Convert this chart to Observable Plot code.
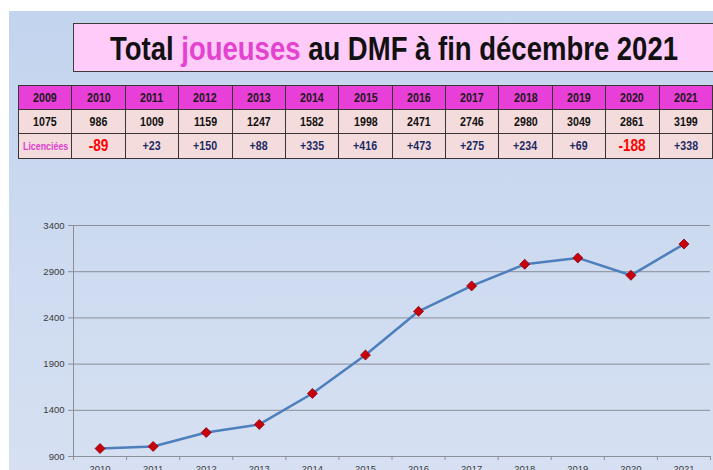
<!DOCTYPE html>
<html>
<head>
<meta charset="utf-8">
<script src="https://cdn.jsdelivr.net/npm/d3@7"></script>
<script src="https://cdn.jsdelivr.net/npm/@observablehq/plot@0.6"></script>
<style>
  body { margin: 0; background: #fff; }
  #root { position: relative; width: 713px; height: 470px; overflow: hidden; background: #fff; }
  #bg { position: absolute; left: 9px; top: 11px; right: 0; bottom: 0;
        background: linear-gradient(#c3d4ee, #d6e0f2); }
  #title { position: absolute; left: 73px; top: 23px; width: 660px; height: 47px;
           border: 1px solid #3c3c3c; background: #ffccf9; box-sizing: content-box; }
  #title span.t { position: absolute; left: 320px; top: 0; line-height: 49px;
           font-family: "Liberation Sans", Arial, sans-serif;
           font-weight: bold; font-size: 34px; color: #111; white-space: nowrap; }
  #title .pink { color: #e443d0; }
  table { position: absolute; left: 18px; top: 85px; width: 695px; border-collapse: collapse; table-layout: fixed;
          font-family: "Liberation Sans", Arial, sans-serif; font-weight: bold; }
  td { border: 1.5px solid #3a3434; text-align: center; padding: 0; font-size: 12.5px; overflow: visible; }
  td span { display: inline-block; transform: scaleX(0.85); white-space: nowrap; }
  tr.h td { background: #e73fd7; color: #1a1a1a; height: 23px; }
  tr.v td { background: #f4dcdc; color: #111; height: 23px; }
  tr.d td { background: #f4dcdc; color: #1c2a63; height: 24px; }
  td.neg { color: #ff0000 !important; font-size: 16px; }
  td.lic { color: #e040d0 !important; font-size: 10.8px; }
  td.lic span { transform: scaleX(0.82); margin: 0 -6px; }
  #chart { position: absolute; left: 0; top: 200px; }
</style>
</head>
<body>
<div id="root">
  <div id="bg"></div>
  <div id="title"><span class="t" id="ttl">Total <span class="pink">joueuses</span> au DMF à fin décembre 2021</span></div>
  <table id="tbl"></table>
  <div id="chart"></div>
</div>
<script>
const tableYears = [2009, 2010, 2011, 2012, 2013, 2014, 2015, 2016, 2017, 2018, 2019, 2020, 2021];
const tableTotals = [1075, 986, 1009, 1159, 1247, 1582, 1998, 2471, 2746, 2980, 3049, 2861, 3199];
const tableDiffs = ["Licenciées", -89, 23, 150, 88, 335, 416, 473, 275, 234, 69, -188, 338];

const chartYears = [2010, 2011, 2012, 2013, 2014, 2015, 2016, 2017, 2018, 2019, 2020, 2021];
const chartValues = [986, 1009, 1159, 1247, 1582, 1998, 2471, 2746, 2980, 3049, 2861, 3199];
const yTicks = [900, 1400, 1900, 2400, 2900, 3400];

// Title: condense to the reference's width, centred in the box
const ttl = document.getElementById("ttl");
const w = ttl.getBoundingClientRect().width;
const s = 568 / w;
ttl.style.transformOrigin = "0 0";
ttl.style.transform = `translateX(${-w * s / 2}px) scaleX(${s})`;

// Table
const tbl = document.getElementById("tbl");
function addRow(cls, vals, fmt) {
  const tr = document.createElement("tr");
  tr.className = cls;
  vals.forEach(v => {
    const td = document.createElement("td");
    const r = fmt(v);
    const sp = document.createElement("span");
    sp.textContent = r.text;
    td.appendChild(sp);
    if (r.cls) td.className = r.cls;
    tr.appendChild(td);
  });
  tbl.appendChild(tr);
}
addRow("h", tableYears, v => ({text: String(v)}));
addRow("v", tableTotals, v => ({text: String(v)}));
addRow("d", tableDiffs, v => typeof v === "string" ? {text: v, cls: "lic"} : (v < 0 ? {text: String(v), cls: "neg"} : {text: "+" + v}));

// Chart
const data = chartYears.map((y, i) => ({year: y, value: chartValues[i]}));
const boundaries = [...chartYears.map(y => y - 0.5), chartYears[chartYears.length - 1] + 0.5];

const chart = Plot.plot({
  width: 713,
  height: 270,
  marginTop: 25,
  marginBottom: 14,
  marginLeft: 73,
  marginRight: 3,
  style: {background: "transparent", fontFamily: "'Liberation Sans', Arial, sans-serif", fontSize: "9.5px", color: "#3a3a3a", overflow: "visible"},
  x: {domain: [2009.5, 2021.5], label: null},
  y: {domain: [900, 3400], label: null},
  marks: [
    Plot.ruleY(yTicks, {stroke: "#8a8f98", strokeWidth: 1}),
    Plot.ruleX([2009.5], {stroke: "#8a8f98", strokeWidth: 1}),
    Plot.axisY({ticks: yTicks, tickSize: 5, tickPadding: 4, stroke: "#8a8f98", tickFormat: d => String(d), label: null}),
    Plot.axisX({ticks: boundaries, tickSize: 4, tickFormat: () => "", stroke: "#8a8f98", label: null}),
    Plot.axisX({ticks: chartYears, tickSize: 0, tickPadding: 9, tickFormat: d => String(d), label: null}),
    Plot.line(data, {x: "year", y: "value", stroke: "#4d7fbc", strokeWidth: 2.5}),
    Plot.dot(data, {x: "year", y: "value", symbol: "diamond2", r: 4.5, fill: "#c8000a", stroke: "#8a0010", strokeWidth: 0.8})
  ]
});
document.getElementById("chart").appendChild(chart);
</script>
</body>
</html>
